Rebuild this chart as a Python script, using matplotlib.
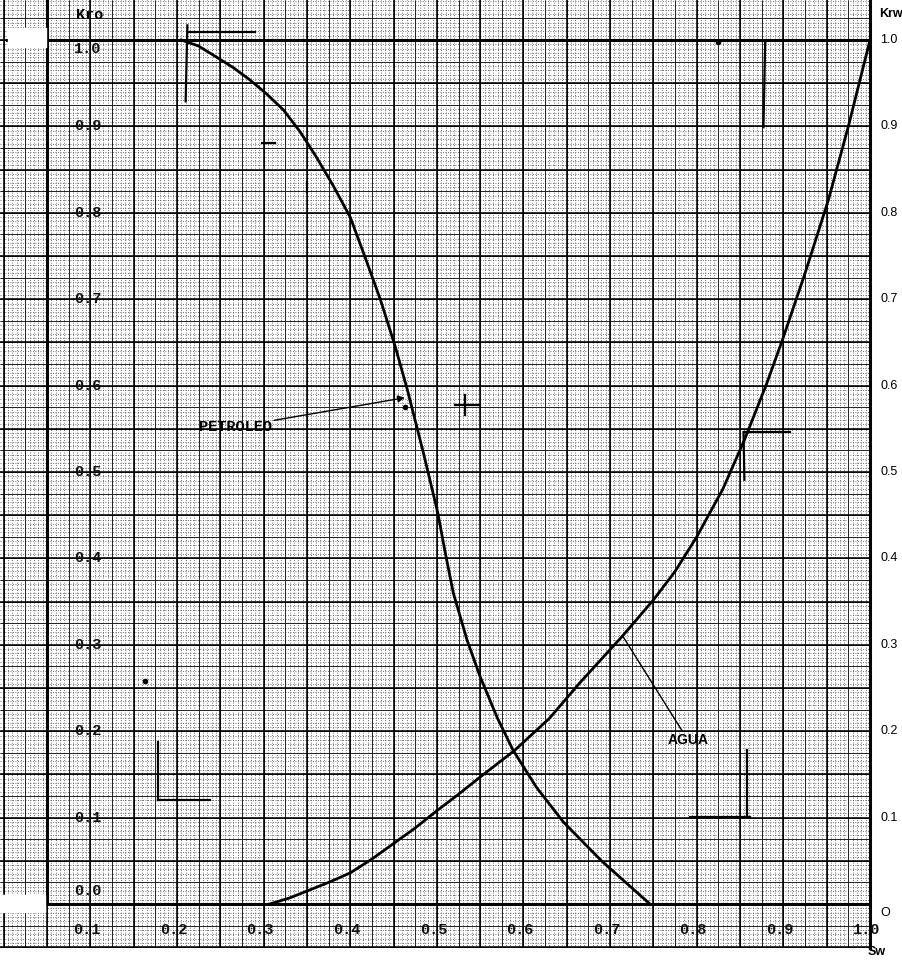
import numpy as np
import matplotlib
matplotlib.use("Agg")
import matplotlib.pyplot as plt

# ---------------------------------------------------------
# Data
# ---------------------------------------------------------
# Petroleo (Kro) curve
sw_oil = [0.205, 0.225, 0.246, 0.265, 0.284, 0.303, 0.323, 0.342, 0.36, 0.38,
          0.40, 0.417, 0.435, 0.452, 0.466, 0.485, 0.501, 0.51, 0.519, 0.535,
          0.55, 0.57, 0.588, 0.615, 0.646, 0.69, 0.746]
kro = [1.0, 0.993, 0.980, 0.968, 0.954, 0.938, 0.919, 0.894, 0.866, 0.832,
       0.795, 0.749, 0.699, 0.645, 0.595, 0.52, 0.453, 0.405, 0.360, 0.305,
       0.263, 0.215, 0.178, 0.135, 0.095, 0.05, 0.0]

# Agua (Krw) curve
sw_wat = [0.307, 0.33, 0.35, 0.375, 0.40, 0.425, 0.45, 0.475, 0.50, 0.525,
          0.55, 0.59, 0.63, 0.665, 0.715, 0.75, 0.775, 0.80, 0.83, 0.855,
          0.881, 0.90, 0.925, 0.952, 0.975, 1.0]
krw = [0.0, 0.007, 0.015, 0.025, 0.036, 0.052, 0.07, 0.088, 0.108, 0.127,
       0.147, 0.178, 0.215, 0.256, 0.311, 0.352, 0.385, 0.425, 0.48, 0.537,
       0.603, 0.656, 0.73, 0.815, 0.9, 1.0]

x_ticks = [0.1, 0.2, 0.3, 0.4, 0.5, 0.6, 0.7, 0.8, 0.9, 1.0]
x_labels = ["0.1", "0.2", "0.3", "0.4", "0.5", "0.6", "0.7", "0.8", "0.9", "1.0"]
y_ticks = [0.0, 0.1, 0.2, 0.3, 0.4, 0.5, 0.6, 0.7, 0.8, 0.9, 1.0]
left_labels = ["0.0", "0.1", "0.2", "0.3", "0.4", "0.5", "0.6", "0.7", "0.8", "0.9", "1.0"]
right_labels = ["O", "0.1", "0.2", "0.3", "0.4", "0.5", "0.6", "0.7", "0.8", "0.9", "1.0"]

# stray pen marks on the sheet (x0, y0, x1, y1)
pen_marks = [
    (0.212, 1.017, 0.210, 0.929),
    (0.213, 1.009, 0.290, 1.009),
    (0.298, 0.881, 0.313, 0.881),
    (0.350, 0.836, 0.350, 0.824),
    (0.879, 0.998, 0.877, 0.899),
    (0.533, 0.589, 0.533, 0.566),
    (0.521, 0.578, 0.550, 0.578),
    (0.854, 0.546, 0.908, 0.546),
    (0.854, 0.546, 0.855, 0.491),
    (0.178, 0.1875, 0.178, 0.120),
    (0.178, 0.120, 0.238, 0.120),
    (0.858, 0.178, 0.858, 0.101),
    (0.792, 0.101, 0.862, 0.101),
]
pen_dots = [(0.163, 0.258), (0.825, 0.998), (0.463, 0.575)]

# paper limits (the grid runs past the plotted frame)
X_MIN, X_MAX = -0.0043, 1.0
Y_MIN, Y_MAX = -0.0509, 1.0463


def draw_paper(ax):
    """Graph-paper grid: dotted fine lines, solid lines and bolder lines."""
    fine_x = np.arange(0.0, X_MAX + 1e-9, 0.005)
    fine_y = np.arange(-0.05, Y_MAX, 0.005)
    ax.vlines(fine_x, Y_MIN, Y_MAX, colors="#444444", linewidth=0.6,
              linestyles=(0, (1, 2)), zorder=1)
    ax.hlines(fine_y, X_MIN, X_MAX, colors="#444444", linewidth=0.6,
              linestyles=(0, (1, 2)), zorder=1)

    mid_x = np.arange(0.0, X_MAX + 1e-9, 0.025)
    mid_y = np.arange(-0.05, Y_MAX, 0.025)
    ax.vlines(mid_x, Y_MIN, Y_MAX, colors="#222222", linewidth=0.7, zorder=2)
    ax.hlines(mid_y, X_MIN, X_MAX, colors="#222222", linewidth=0.7, zorder=2)

    major_x = np.arange(0.0, X_MAX + 1e-9, 0.05)
    major_y = np.arange(-0.05, Y_MAX, 0.05)
    ax.vlines(major_x, Y_MIN, Y_MAX, colors="black", linewidth=1.15, zorder=2)
    ax.hlines(major_y, X_MIN, X_MAX, colors="black", linewidth=1.15, zorder=2)


def main():
    fig = plt.figure(figsize=(9.03, 9.61), dpi=100)
    ax = fig.add_axes([0.0, 13 / 961, 870 / 903, 948 / 961])
    ax.set_xlim(X_MIN, X_MAX)
    ax.set_ylim(Y_MIN, Y_MAX)
    ax.axis("off")

    draw_paper(ax)

    # frame
    ax.plot([0.05, 0.05], [0.0, Y_MAX], color="black", lw=2.2, zorder=4)
    ax.plot([X_MIN + 0.008, 1.0], [1.0, 1.0], color="black", lw=2.2, zorder=4)
    ax.plot([0.05, 1.0], [0.0, 0.0], color="black", lw=2.2, zorder=4)
    ax.plot([1.0, 1.0], [Y_MIN, Y_MAX], color="black", lw=2.2, zorder=4, clip_on=False)

    # white patches where the scan lost the paper
    ax.fill_between([0.005, 0.049], 0.992, 1.014, color="white", zorder=6)
    ax.fill_between([X_MIN, 0.048], -0.009, 0.011, color="white", zorder=6)

    # curves
    ax.plot(sw_oil, kro, color="black", lw=2.0, zorder=5)
    ax.plot(sw_wat, krw, color="black", lw=2.0, zorder=5)

    # pen marks
    for x0, y0, x1, y1 in pen_marks:
        ax.plot([x0, x1], [y0, y1], color="black", lw=1.6, zorder=5, clip_on=False)
    for x, y in pen_dots:
        ax.plot(x, y, "o", color="black", ms=3, zorder=5)

    mono = "Liberation Mono"
    sans = "Liberation Sans"
    # annotations
    ax.annotate("PETROLEO", xy=(0.463, 0.586), xytext=(0.267, 0.552),
                fontsize=11, family=mono, fontweight="bold", ha="center", va="center",
                arrowprops=dict(arrowstyle="-|>", color="black", lw=1.0,
                                shrinkA=0, shrinkB=0, mutation_scale=10),
                zorder=6)
    ax.annotate("AGUA", xy=(0.714, 0.311), xytext=(0.766, 0.19),
                fontsize=10, family=sans, fontweight="bold", ha="left", va="center",
                arrowprops=dict(arrowstyle="-", color="black", lw=1.0,
                                shrinkA=0, shrinkB=0),
                zorder=6)

    # left (Kro) labels inside the frame
    for v, lab in zip(y_ticks, left_labels):
        ax.text(0.081, v + (0.015 if v == 0.0 else 0.0) - (0.01 if v == 1.0 else 0.0),
                lab, fontsize=11, family=mono, fontweight="bold", color="#111111",
                ha="left", va="center", zorder=6)
    ax.text(0.084, 1.029, "Kro", fontsize=11, family=mono, fontweight="bold",
            ha="left", va="center", zorder=6)

    # right (Krw) labels outside the frame
    for v, lab in zip(y_ticks, right_labels):
        ax.text(1.012, v - (0.01 if v == 0.0 else 0.0), lab, fontsize=9,
                family=sans, ha="left", va="center", clip_on=False)
    ax.text(1.01, 1.03, "Krw", fontsize=9, family=sans,
            fontweight="bold", ha="left", va="center", clip_on=False)

    # bottom (Sw) labels
    for v, lab in zip(x_ticks, x_labels):
        ax.text(v - 0.004, -0.030, lab, fontsize=11, family=mono, fontweight="bold",
                color="#111111", ha="center", va="center", zorder=6)
    ax.text(1.008, -0.056, "Sw", fontsize=9, family=sans,
            fontweight="bold", ha="center", va="center", clip_on=False)

    fig.savefig("out.png", dpi=100)
    plt.close(fig)
    return 0


if __name__ == "__main__":
    main()
